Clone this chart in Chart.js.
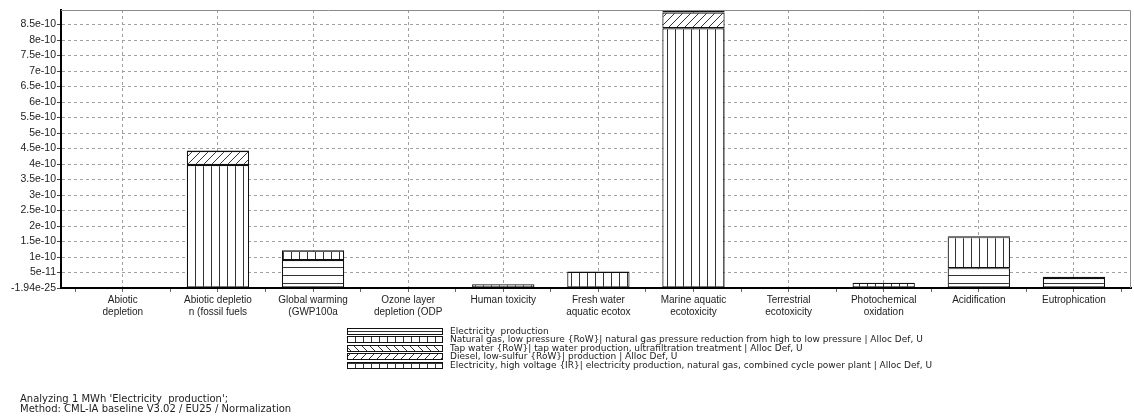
<!DOCTYPE html>
<html>
<head>
<meta charset="utf-8">
<script src="https://cdn.jsdelivr.net/npm/chart.js@4.4.1/dist/chart.umd.min.js"></script>
<style>
  html, body { margin: 0; padding: 0; background: #fff; }
  canvas { display: block; }
</style>
</head>
<body>
<canvas id="myChart" width="1134" height="420"></canvas>
<script>
// categories (impact categories, cut off like in the original)
const categories = [
    ['Abiotic', 'depletion'],
    ['Abiotic depletio', 'n (fossil fuels'],
    ['Global warming', '(GWP100a'],
    ['Ozone layer', 'depletion (ODP'],
    ['Human toxicity'],
    ['Fresh water', 'aquatic ecotox'],
    ['Marine aquatic', 'ecotoxicity'],
    ['Terrestrial', 'ecotoxicity'],
    ['Photochemical', 'oxidation'],
    ['Acidification'],
    ['Eutrophication']
];

const seriesNames = [
    'Electricity  production',
    'Natural gas, low pressure {RoW}| natural gas pressure reduction from high to low pressure | Alloc Def, U',
    'Tap water {RoW}| tap water production, ultrafiltration treatment | Alloc Def, U',
    'Diesel, low-sulfur {RoW}| production | Alloc Def, U',
    'Electricity, high voltage {IR}| electricity production, natural gas, combined cycle power plant | Alloc Def, U'
];

const electricityProduction = [0, 0, 9.0e-11, 0, 0, 0, 0, 0, 0, 6.4e-11, 3.2e-11];
const naturalGas            = [0, 3.97e-10, 0, 0, 0, 5.2e-11, 8.38e-10, 0, 0, 1.0e-10, 0];
const tapWater              = [0, 0, 0, 0, 0, 0, 0, 0, 0, 0, 0];
const diesel                = [0, 4.5e-11, 0, 0, 0, 0, 5.1e-11, 0, 0, 0, 0];
const electricityIR         = [0, 2e-12, 3.2e-11, 0, 1.2e-11, 1e-12, 8e-12, 0, 1.7e-11, 3e-12, 4.5e-12];

const yMax = 8.97e-10;
const yTickValues = [0, 5e-11, 1e-10, 1.5e-10, 2e-10, 2.5e-10, 3e-10, 3.5e-10, 4e-10, 4.5e-10,
                     5e-10, 5.5e-10, 6e-10, 6.5e-10, 7e-10, 7.5e-10, 8e-10, 8.5e-10];
const yTickLabels = ['-1.94e-25', '5e-11', '1e-10', '1.5e-10', '2e-10', '2.5e-10', '3e-10', '3.5e-10', '4e-10', '4.5e-10',
                     '5e-10', '5.5e-10', '6e-10', '6.5e-10', '7e-10', '7.5e-10', '8e-10', '8.5e-10'];

const footerLines = [
    "Analyzing 1 MWh 'Electricity  production';",
    'Method: CML-IA baseline V3.02 / EU25 / Normalization'
];

const FONT = '"Liberation Sans", Arial, sans-serif';
const SMALL_FONT = '"DejaVu Sans", Verdana, sans-serif';

function makePattern(kind){
    let c = document.createElement('canvas');
    c.width = 8;
    c.height = 8;
    let g = c.getContext('2d');
    g.fillStyle = '#fff';
    g.fillRect(0, 0, 8, 8);
    g.strokeStyle = '#333';
    g.lineWidth = 1;
    g.beginPath();
    if (kind == 'horizontal' || kind == 'grid'){
        g.moveTo(0, 3.5); g.lineTo(8, 3.5);
    }
    if (kind == 'vertical' || kind == 'grid'){
        g.moveTo(3.5, 0); g.lineTo(3.5, 8);
    }
    if (kind == 'slash'){
        g.moveTo(0, 8); g.lineTo(8, 0);
        g.moveTo(-1, 1); g.lineTo(1, -1);
        g.moveTo(7, 9); g.lineTo(9, 7);
    }
    if (kind == 'backslash'){
        g.moveTo(0, 0); g.lineTo(8, 8);
        g.moveTo(-1, 7); g.lineTo(1, 9);
        g.moveTo(7, -1); g.lineTo(9, 1);
    }
    g.stroke();
    return g.createPattern(c, 'repeat');
}

const seriesValues = [electricityProduction, naturalGas, tapWater, diesel, electricityIR];
const patternKinds = ['horizontal', 'vertical', 'backslash', 'slash', 'grid'];

const datasets = seriesValues.map(function(vals, i){
    return {
        label: seriesNames[i],
        data: vals.map((v, k) => ({x: k, y: v === 0 ? null : v})),
        backgroundColor: makePattern(patternKinds[i]),
        borderColor: '#111',
        borderWidth: 1.2,
        borderSkipped: false,
        // min sample size is the half-category tick spacing
        barPercentage: 1.31,
        categoryPercentage: 1
    };
});

let xTicks = [];
for (let v = -0.5; v <= categories.length - 0.5; v += 0.5) xTicks.push(v);

const extras = {
    id: 'extras',
    afterDraw(chart){
        const ctx = chart.ctx;
        const a = chart.chartArea;
        ctx.save();
        // grey frame top and right
        ctx.strokeStyle = '#8a8a8a';
        ctx.lineWidth = 1;
        ctx.beginPath();
        ctx.moveTo(a.left, a.top + 0.5);
        ctx.lineTo(a.right - 0.5, a.top + 0.5);
        ctx.lineTo(a.right - 0.5, a.bottom);
        ctx.stroke();

        // legend, one row per series
        const lx = 347, ly = 328, rowH = 8.4, sw = 95, sh = 6;
        ctx.font = '9px ' + SMALL_FONT;
        ctx.textBaseline = 'middle';
        chart.data.datasets.forEach(function(ds, i){
            let y = Math.round(ly + i * rowH);
            ctx.fillStyle = ds.backgroundColor;
            ctx.fillRect(lx, y, sw, sh);
            ctx.strokeStyle = '#111';
            ctx.strokeRect(lx + 0.5, y + 0.5, sw, sh);
            ctx.fillStyle = '#222';
            ctx.fillText(ds.label, lx + sw + 8, y + sh / 2 + 0.5);
        });

        // footer
        ctx.fillStyle = '#222';
        ctx.font = '10px ' + SMALL_FONT;
        footerLines.forEach(function(t, i){
            ctx.fillText(t, 20, 399 + i * 10.5);
        });
        ctx.restore();
    }
};

let myChart = document.getElementById('myChart');
new Chart(myChart, {
    type: 'bar',
    data: { datasets: datasets },
    options: {
        responsive: false,
        animation: false,
        layout: { padding: { top: 10, right: 3 } },
        plugins: {
            legend: { display: false },
            tooltip: { enabled: false }
        },
        scales: {
            x: {
                type: 'linear',
                stacked: true,
                offset: false,
                min: -0.65,
                max: categories.length - 0.4,
                afterBuildTicks: function(scale){
                    scale.ticks = xTicks.map(v => ({value: v}));
                },
                afterFit: function(scale){ scale.height = 132; },
                grid: {
                    offset: false,
                    color: c => (c.tick && Number.isInteger(c.tick.value)) ? '#a0a0a0' : 'transparent',
                    tickColor: '#666',
                    tickLength: 4,
                    lineWidth: 1
                },
                border: { color: '#000', width: 2, dash: [3, 3] },
                ticks: {
                    autoSkip: false,
                    maxRotation: 0,
                    padding: 2,
                    color: '#222',
                    font: { family: FONT, size: 10 },
                    callback: function(v){
                        return Number.isInteger(v) ? categories[v] : '';
                    }
                }
            },
            y: {
                stacked: true,
                min: 0,
                max: yMax,
                afterBuildTicks: function(scale){
                    scale.ticks = yTickValues.map(v => ({value: v}));
                },
                afterFit: function(scale){ scale.width = 61; },
                grid: {
                    color: c => (c.tick && c.tick.value === 0) ? 'transparent' : '#a0a0a0',
                    tickColor: '#444',
                    tickLength: 4,
                    lineWidth: 1
                },
                border: { color: '#000', width: 2, dash: [3, 3] },
                ticks: {
                    padding: 1,
                    color: '#222',
                    font: { family: FONT, size: 10.5 },
                    callback: function(v, i){ return yTickLabels[i]; }
                }
            }
        }
    },
    plugins: [extras]
});
</script>
</body>
</html>
